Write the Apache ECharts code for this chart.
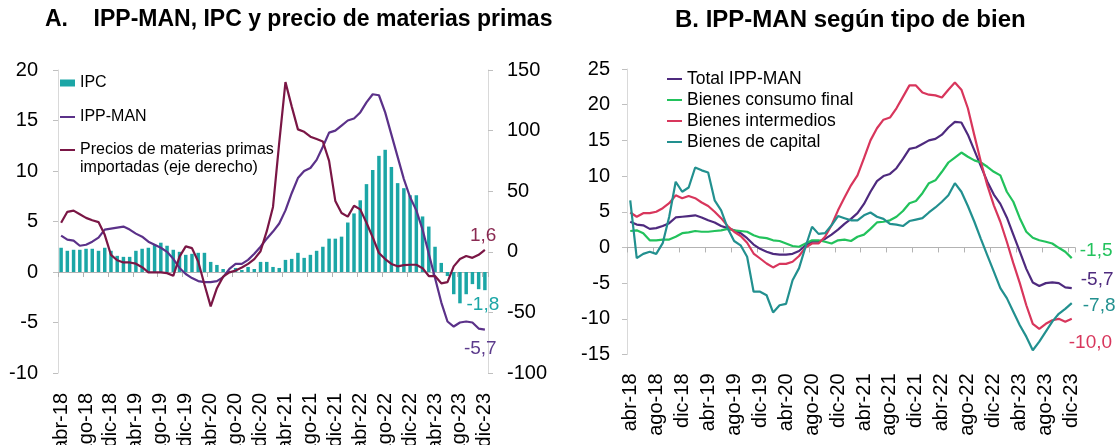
<!DOCTYPE html>
<html>
<head>
<meta charset="utf-8">
<script src="https://cdn.jsdelivr.net/npm/echarts@6/dist/echarts.min.js"></script>
<style>
  html, body { margin: 0; padding: 0; background: #fff; }
  #chart { width: 1117px; height: 445px; }
</style>
</head>
<body>
<div id="chart"></div>
<script>
const months = [
  'abr-18', 'may-18', 'jun-18', 'jul-18', 'ago-18', 'sep-18', 'oct-18', 'nov-18', 'dic-18',
  'ene-19', 'feb-19', 'mar-19', 'abr-19', 'may-19', 'jun-19', 'jul-19', 'ago-19', 'sep-19', 'oct-19', 'nov-19', 'dic-19',
  'ene-20', 'feb-20', 'mar-20', 'abr-20', 'may-20', 'jun-20', 'jul-20', 'ago-20', 'sep-20', 'oct-20', 'nov-20', 'dic-20',
  'ene-21', 'feb-21', 'mar-21', 'abr-21', 'may-21', 'jun-21', 'jul-21', 'ago-21', 'sep-21', 'oct-21', 'nov-21', 'dic-21',
  'ene-22', 'feb-22', 'mar-22', 'abr-22', 'may-22', 'jun-22', 'jul-22', 'ago-22', 'sep-22', 'oct-22', 'nov-22', 'dic-22',
  'ene-23', 'feb-23', 'mar-23', 'abr-23', 'may-23', 'jun-23', 'jul-23', 'ago-23', 'sep-23', 'oct-23', 'nov-23', 'dic-23'
];

// panel A
const ipc = [
  2.4, 2.1, 2.2, 2.2, 2.3, 2.3, 2.1, 2.4, 2.1, 1.6, 1.5, 1.5, 2.1, 2.3, 2.4, 2.7, 2.9, 2.6, 2.2, 2.0,
  1.7, 1.8, 1.9, 1.9, 1.0, 0.7, 0.3, 0.1, 0.4, 0.2, 0.5, 0.3, 1.0, 1.0, 0.5, 0.4, 1.2, 1.3, 1.9, 1.4,
  1.7, 2.1, 2.5, 3.3, 3.3, 3.5, 4.9, 5.8, 7.1, 8.7, 10.1, 11.5, 12.1, 10.4, 8.8, 8.3, 7.6, 7.6, 5.5, 4.5,
  2.5, 0.9, -0.4, -2.2, -3.1, -2.2, -1.2, -1.7, -1.8
];
const ippMan = [
  3.6, 3.2, 3.1, 2.6, 2.7, 3.0, 3.4, 4.2, 4.3, 4.4, 4.5, 4.2, 3.8, 3.5, 3.0, 2.7, 2.4, 2.0, 1.3, 0.4,
  -0.2, -0.6, -0.9, -1.0, -1.0, -0.9, -0.5, 0.3, 0.8, 0.8, 1.2, 1.8, 2.5, 3.3, 4.0, 4.8, 6.1, 7.8, 9.3, 10.0,
  10.3, 11.1, 12.4, 13.8, 14.0, 14.5, 15.0, 15.2, 15.8, 16.8, 17.6, 17.5, 15.8, 13.6, 11.4, 9.2, 7.4, 6.1, 4.2, 1.8,
  -0.6, -3.0, -4.9, -5.4, -5.0, -4.9, -5.0, -5.6, -5.7
];
const materiasPrimas = [
  24, 33, 34, 31, 28, 26, 24.5, 14, -2.5, -7, -8.8, -8.8, -9.8, -12.7, -17, -17, -17, -17.6, -19.8, -4,
  4.5, 3, -8, -27, -45, -30, -20.5, -17, -15.5, -13, -10, -6, 0.5, 17, 37, 90, 140, 120, 101, 99,
  95, 93, 91, 75, 42, 32, 29, 38, 35, 24, 12, -1, -6, -10, -12, -11, -10.7, -10.7, -13.5, -20,
  -20, -26, -25, -12, -6, -3.5, -5, -2.5, 1.6
];

// panel B
const consumoFinal = [
  2.3, 2.4, 2.0, 1.0, 1.0, 1.1, 1.1, 1.5, 2.0, 2.1, 2.3, 2.2, 2.2, 2.3, 2.4, 2.6, 2.4, 2.3, 2.2, 1.7,
  1.4, 1.3, 1.0, 0.9, 0.55, 0.2, 0.1, 0.55, 1.0, 1.0, 0.8, 0.55, 1.0, 1.1, 0.9, 1.5, 1.8, 2.6, 3.5, 3.6,
  3.8, 4.3, 5.1, 6.2, 6.5, 7.6, 9.0, 9.4, 10.6, 11.9, 12.6, 13.3, 12.7, 12.2, 11.9, 11.3, 10.6, 10.1, 7.8, 6.4,
  4.1, 2.2, 1.35, 1.0, 0.8, 0.55, -0.05, -0.6, -1.5
];
const intermedios = [
  4.9, 4.3, 4.8, 4.8, 5.0, 5.5, 6.2, 7.3, 6.9, 7.2, 6.9, 6.3, 5.8, 5.0, 4.1, 3.0, 2.2, 1.6, 0.65, -0.85,
  -1.55, -2.25, -2.8, -2.3, -2.3, -2.0, -1.2, 0, 0.55, 0.55, 1.5, 3.1, 5.2, 7.0, 8.7, 10.1, 12.5, 15.0, 16.7, 17.9,
  18.2, 19.5, 21.1, 22.7, 22.7, 21.7, 21.4, 21.3, 21.0, 22.1, 23.1, 22.1, 19.5, 15.7, 12.0, 8.7, 5.9, 3.6, 0.8, -2.2,
  -5.0, -8.1, -10.7, -11.4, -10.7, -10.2, -10.0, -10.4, -10.0
];
const capital = [
  6.6, -1.5, -0.9, -0.6, -0.9, 0.6, 4.3, 9.2, 7.8, 8.4, 11.2, 10.8, 10.5, 6.6, 5.2, 2.7, 0.9, 0.3, -1.3, -6.2,
  -6.2, -6.7, -9.1, -8.1, -7.9, -4.6, -2.9, 0.1, 2.9, 1.9, 2.0, 3.1, 4.4, 4.1, 3.8, 3.8, 4.5, 4.9, 4.3, 4.0,
  3.3, 3.2, 3.0, 3.7, 3.9, 4.1, 4.9, 5.6, 6.4, 7.3, 9.0, 7.8, 5.8, 3.6, 1.2, -1.1, -3.4, -5.7, -7.1, -9.0,
  -10.9, -12.5, -14.4, -13.2, -11.8, -10.4, -9.3, -8.6, -7.8
];

const FONT = 'Liberation Sans, Arial, sans-serif';
const fmt = v => v.toFixed(1).replace('.', ',');

const C_IPC = '#1ba6a6';
const C_IPP = '#5b3189';
const C_MP = '#7a1645';
const C_TOT = '#4e2a7e';
const C_CONS = '#22c25c';
const C_INT = '#d8365c';
const C_CAP = '#22908f';

function labelAxis(grid, margin) {
  return {
    type: 'category', gridIndex: grid, data: months, position: 'bottom',
    axisLine: { show: false }, axisTick: { show: false },
    axisLabel: { interval: 3, rotate: 90, fontSize: 20, color: '#000', margin: margin }
  };
}
function zeroAxis(grid, yIndex) {
  return {
    type: 'category', gridIndex: grid, data: months, position: 'bottom',
    axisLine: { onZero: true, onZeroAxisIndex: yIndex, lineStyle: { color: '#b3b3b3', width: 1 } },
    axisTick: { show: true, interval: 3, length: 5, lineStyle: { color: '#b3b3b3' } },
    axisLabel: { show: false }
  };
}
function valueAxis(grid, pos, min, max, step, margin) {
  return {
    type: 'value', gridIndex: grid, position: pos, min: min, max: max, interval: step,
    axisLine: { show: true, lineStyle: { color: '#d9d9d9' } },
    axisTick: { show: true, length: 5, lineStyle: { color: '#bfbfbf' } },
    axisLabel: { fontSize: 20, color: '#000', margin: margin },
    splitLine: { show: false }
  };
}
function line(name, values, color, xi, yi, endLabel) {
  return {
    name: name, type: 'line', data: values, xAxisIndex: xi, yAxisIndex: yi,
    symbol: 'none', lineStyle: { color: color, width: 2.2 }, itemStyle: { color: color },
    endLabel: Object.assign({ show: true, fontSize: 19, formatter: p => fmt(p.value) }, endLabel)
  };
}
function legendAt(name, left, top, bar, fontSize) {
  return {
    data: [name], left: left, top: top, padding: 0, selectedMode: false,
    icon: 'rect', itemWidth: 15, itemHeight: bar ? 7 : 2,
    textStyle: { fontSize: fontSize, lineHeight: 20, color: '#000' }
  };
}

const chart = echarts.init(document.getElementById('chart'));
chart.setOption({
  animation: false,
  textStyle: { fontFamily: FONT },
  title: [
    { text: 'A.    IPP-MAN, IPC y precio de materias primas', left: 45, top: 8, padding: 0,
      textStyle: { fontSize: 23, fontWeight: 'bold', color: '#000' } },
    { text: 'B. IPP-MAN según tipo de bien', left: 675, top: 8, padding: 0,
      textStyle: { fontSize: 24, fontWeight: 'bold', color: '#000' } }
  ],
  grid: [
    { left: 58, top: 70, width: 430, height: 303, outerBoundsMode: 'none' },
    { left: 627, top: 69, width: 448, height: 285.5, outerBoundsMode: 'none' }
  ],
  legend: [
    legendAt('IPC', 60, 73, true, 16),
    legendAt('IPP-MAN', 60, 107, false, 16),
    legendAt('Precios de materias primas', 60, 140, false, 16),
    legendAt('Total IPP-MAN', 667, 69, false, 17.5),
    legendAt('Bienes consumo final', 667, 90, false, 17.5),
    legendAt('Bienes intermedios', 667, 111, false, 17.5),
    legendAt('Bienes de capital', 667, 132, false, 17.5)
  ],
  graphic: [
    { type: 'text', left: 80, top: 160,
      style: { text: 'importadas (eje derecho)', fontSize: 16, fontFamily: FONT, fill: '#000' } }
  ],
  xAxis: [
    labelAxis(0, 20), zeroAxis(0, 0),
    labelAxis(1, 19), zeroAxis(1, 2)
  ],
  yAxis: [
    valueAxis(0, 'left', -10, 20, 5, 20),
    valueAxis(0, 'right', -100, 150, 50, 19),
    valueAxis(1, 'left', -15, 25, 5, 17)
  ],
  series: [
    {
      name: 'IPC', type: 'bar', xAxisIndex: 0, yAxisIndex: 0, barWidth: '56%',
      itemStyle: { color: C_IPC },
      data: ipc.map((v, i) => i === ipc.length - 1
        ? { value: v, label: { show: true, position: 'bottom', distance: 5, offset: [-2, 0],
            fontSize: 19, color: C_IPC, formatter: p => fmt(p.value) } }
        : v)
    },
    line('IPP-MAN', ippMan, C_IPP, 0, 0, { color: '#5c3b8c', offset: [-29, 19] }),
    line('Precios de materias primas', materiasPrimas, C_MP, 0, 1, { color: '#8a2a52', offset: [-23, -14] }),
    line('Total IPP-MAN', ippMan, C_TOT, 2, 2, { color: C_TOT, offset: [1, -8] }),
    line('Bienes consumo final', consumoFinal, C_CONS, 2, 2, { color: C_CONS, offset: [0, -7] }),
    line('Bienes intermedios', intermedios, C_INT, 2, 2, { color: C_INT, offset: [-11, 24] }),
    line('Bienes de capital', capital, C_CAP, 2, 2, { color: C_CAP, offset: [3, 3] })
  ]
});
</script>
</body>
</html>
